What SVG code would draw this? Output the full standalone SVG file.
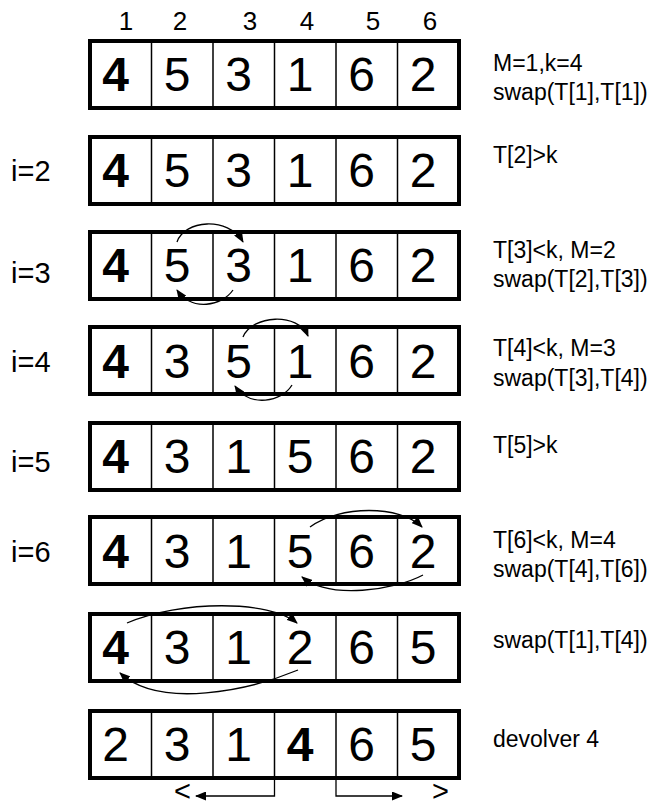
<svg xmlns="http://www.w3.org/2000/svg" width="654" height="807" viewBox="0 0 654 807">
<style>
text{font-family:"Liberation Sans",Arial,sans-serif;fill:#000}
.outer{fill:#fff;stroke:#000;stroke-width:4}
.div{stroke:#000;stroke-width:1.5}
.d{font-size:48px;text-anchor:middle}
.b{font-weight:bold}
.col{font-size:26px;text-anchor:middle}
.lab{font-size:23px}
.il{font-size:29px}
.br{font-size:29px}
.con{fill:none;stroke:#000;stroke-width:1.3}
</style>
<defs>
<marker id="ah" markerUnits="userSpaceOnUse" markerWidth="11" markerHeight="9" refX="10" refY="4.5" orient="auto">
<path d="M0,0 L11,4.5 L0,9 Z" fill="#000"/>
</marker>
<g id="cells">
<rect class="outer" x="90" y="0" width="369" height="67"/>
<line class="div" x1="151.5" y1="0" x2="151.5" y2="67"/>
<line class="div" x1="213" y1="0" x2="213" y2="67"/>
<line class="div" x1="274.5" y1="0" x2="274.5" y2="67"/>
<line class="div" x1="336" y1="0" x2="336" y2="67"/>
<line class="div" x1="397.5" y1="0" x2="397.5" y2="67"/>
</g>
</defs>

<g id="indices">
<text class="col" x="126" y="30">1</text>
<text class="col" x="180" y="30">2</text>
<text class="col" x="250" y="30">3</text>
<text class="col" x="307" y="30">4</text>
<text class="col" x="373" y="30">5</text>
<text class="col" x="430" y="30">6</text>
</g>

<g id="row1">
<use href="#cells" y="41"/>
<text class="d b" x="115.5" y="91">4</text><text class="d" x="177" y="91">5</text><text class="d" x="238.5" y="91">3</text><text class="d" x="300" y="91">1</text><text class="d" x="361.5" y="91">6</text><text class="d" x="423" y="91">2</text>
<text class="lab" x="493" y="71">M=1,k=4</text>
<text class="lab" x="493" y="100">swap(T[1],T[1])</text>
</g>

<g id="row2">
<use href="#cells" y="137"/>
<text class="il" x="11" y="181">i=2</text>
<text class="d b" x="115.5" y="187">4</text><text class="d" x="177" y="187">5</text><text class="d" x="238.5" y="187">3</text><text class="d" x="300" y="187">1</text><text class="d" x="361.5" y="187">6</text><text class="d" x="423" y="187">2</text>
<text class="lab" x="493" y="163">T[2]&gt;k</text>
</g>

<g id="row3">
<use href="#cells" y="232"/>
<text class="il" x="11" y="283">i=3</text>
<text class="d b" x="115.5" y="282">4</text><text class="d" x="177" y="282">5</text><text class="d" x="238.5" y="282">3</text><text class="d" x="300" y="282">1</text><text class="d" x="361.5" y="282">6</text><text class="d" x="423" y="282">2</text>
<text class="lab" x="493" y="258">T[3]&lt;k, M=2</text>
<text class="lab" x="493" y="287">swap(T[2],T[3])</text>
</g>

<g id="row4">
<use href="#cells" y="327"/>
<text class="il" x="11" y="372">i=4</text>
<text class="d b" x="115.5" y="378">4</text><text class="d" x="177" y="378">3</text><text class="d" x="238.5" y="378">5</text><text class="d" x="300" y="378">1</text><text class="d" x="361.5" y="378">6</text><text class="d" x="423" y="378">2</text>
<text class="lab" x="493" y="356">T[4]&lt;k, M=3</text>
<text class="lab" x="493" y="386">swap(T[3],T[4])</text>
</g>

<g id="row5">
<use href="#cells" y="423"/>
<text class="il" x="11" y="472">i=5</text>
<text class="d b" x="115.5" y="473">4</text><text class="d" x="177" y="473">3</text><text class="d" x="238.5" y="473">1</text><text class="d" x="300" y="473">5</text><text class="d" x="361.5" y="473">6</text><text class="d" x="423" y="473">2</text>
<text class="lab" x="493" y="453">T[5]&gt;k</text>
</g>

<g id="row6">
<use href="#cells" y="517"/>
<text class="il" x="11" y="562">i=6</text>
<text class="d b" x="115.5" y="568">4</text><text class="d" x="177" y="568">3</text><text class="d" x="238.5" y="568">1</text><text class="d" x="300" y="568">5</text><text class="d" x="361.5" y="568">6</text><text class="d" x="423" y="568">2</text>
<text class="lab" x="493" y="548">T[6]&lt;k, M=4</text>
<text class="lab" x="493" y="577">swap(T[4],T[6])</text>
</g>

<g id="row7">
<use href="#cells" y="614"/>
<text class="d b" x="115.5" y="664">4</text><text class="d" x="177" y="664">3</text><text class="d" x="238.5" y="664">1</text><text class="d" x="300" y="664">2</text><text class="d" x="361.5" y="664">6</text><text class="d" x="423" y="664">5</text>
<text class="lab" x="493" y="648">swap(T[1],T[4])</text>
</g>

<g id="row8">
<use href="#cells" y="711"/>
<text class="d" x="115.5" y="761">2</text><text class="d" x="177" y="761">3</text><text class="d" x="238.5" y="761">1</text><text class="d b" x="300" y="761">4</text><text class="d" x="361.5" y="761">6</text><text class="d" x="423" y="761">5</text>
<text class="lab" x="493" y="747">devolver 4</text>
<text class="br" x="174" y="801">&lt;</text>
<text class="br" x="432" y="801">&gt;</text>
</g>

<g id="connectors">
<path class="con" d="M177,242 C184,220 228,216 243,242" marker-end="url(#ah)"/>
<path class="con" d="M233,290 C222,306 192,312 177,290" marker-end="url(#ah)"/>
<path class="con" d="M243,337 C252,315 298,312 308,336" marker-end="url(#ah)"/>
<path class="con" d="M292,385 C282,402 250,408 235,386" marker-end="url(#ah)"/>
<path class="con" d="M310,527 C340,505 400,505 422,527" marker-end="url(#ah)"/>
<path class="con" d="M423,575 C395,590 330,600 302,577" marker-end="url(#ah)"/>
<path class="con" d="M127,623 C180,600 270,600 297,623" marker-end="url(#ah)"/>
<path class="con" d="M298,670 C250,690 160,710 120,673" marker-end="url(#ah)"/>
<path class="con" d="M274.5,778 V796 H196" marker-end="url(#ah)"/>
<path class="con" d="M336,778 V796 H402" marker-end="url(#ah)"/>
</g>
</svg>
